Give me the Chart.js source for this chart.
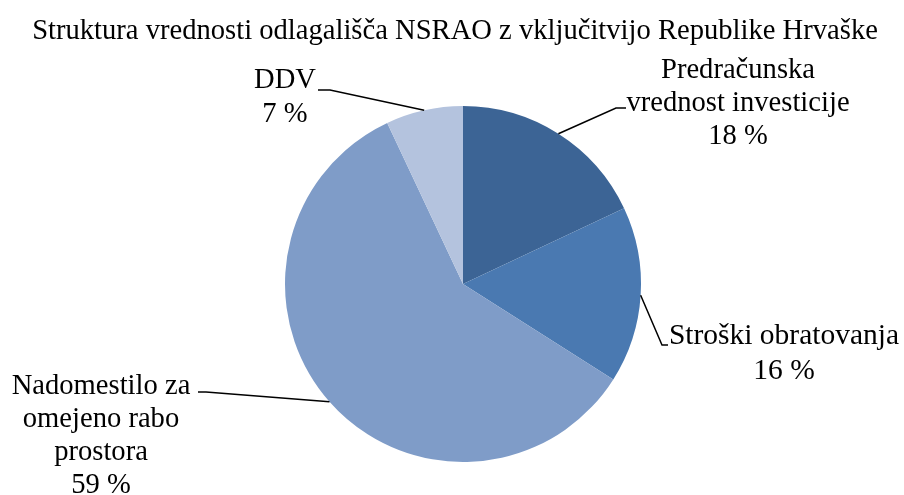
<!DOCTYPE html>
<html>
<head>
<meta charset="utf-8">
<script src="https://cdn.jsdelivr.net/npm/chart.js@4.4.1/dist/chart.umd.min.js"></script>
<style>
  html,body{margin:0;padding:0;background:#fff;}
  #wrap{width:904px;height:495px;position:relative;}
</style>
</head>
<body>
<div id="wrap"><canvas id="c" width="904" height="495"></canvas></div>
<script>
const titleText = "Struktura vrednosti odlagališča NSRAO z vključitvijo Republike Hrvaške";
const categories = [
  ["Predračunska","vrednost investicije"],
  ["Stroški obratovanja"],
  ["Nadomestilo za","omejeno rabo","prostora"],
  ["DDV"]
];
const shares = [18, 16, 59, 7];
const colors = ["#3c6495","#4a79b1","#7f9cc8","#b4c3de"];

const FONT = "'Liberation Serif', 'Times New Roman', serif";

// where each label block sits and how its leader line bends
const labelPos = [
  {cx:738, y:70,  gap:33, elbow:{x:616,y:108}, end:{x:626,y:108}},
  {cx:784, y:336, gap:35, elbow:{x:662,y:345}, end:{x:668,y:345}},
  {cx:101, y:386, gap:33, elbow:{x:206,y:392}, end:{x:198,y:392}},
  {cx:285, y:80,  gap:34, elbow:{x:330,y:90},  end:{x:318,y:90}}
];

const labelPlugin = {
  id:"outLabels",
  afterDatasetsDraw(chart){
    const ctx = chart.ctx;
    const meta = chart.getDatasetMeta(0);
    ctx.save();
    ctx.fillStyle = "#000";
    ctx.textAlign = "center"; ctx.textBaseline = "middle";
    ctx.font = "28.6px " + FONT;
    ctx.fillText(titleText, 455, 31);
    meta.data.forEach((arc, i)=>{
      const p = labelPos[i];
      const mid = (arc.startAngle + arc.endAngle)/2;
      const sx = arc.x + Math.cos(mid)*arc.outerRadius;
      const sy = arc.y + Math.sin(mid)*arc.outerRadius;
      ctx.strokeStyle = "#000"; ctx.lineWidth = 1.5;
      ctx.beginPath(); ctx.moveTo(sx,sy); ctx.lineTo(p.elbow.x,p.elbow.y); ctx.lineTo(p.end.x,p.end.y); ctx.stroke();
      const lines = categories[i].concat([shares[i] + " %"]);
      ctx.font = (i === 1 ? "29.5px " : "28.6px ") + FONT;
      lines.forEach((t, k)=> ctx.fillText(t, p.cx, p.y + k*p.gap));
    });
    ctx.restore();
  }
};

new Chart(document.getElementById("c"), {
  type:"pie",
  data:{
    labels: categories.map(l=>l.join(" ")),
    datasets:[{data:shares, backgroundColor:colors, borderWidth:0}]
  },
  options:{
    responsive:false,
    animation:false,
    layout:{padding:{left:285, right:263, top:106, bottom:33}},
    plugins:{
      legend:{display:false},
      tooltip:{enabled:false}
    }
  },
  plugins:[labelPlugin]
});
</script>
</body>
</html>
